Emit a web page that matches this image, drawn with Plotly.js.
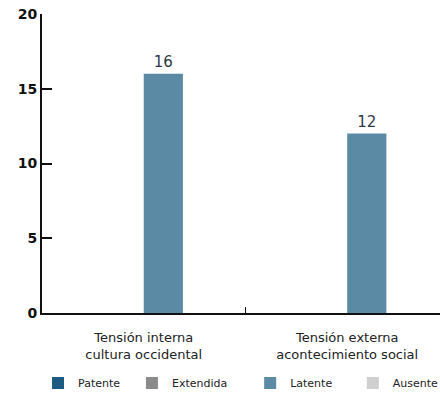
<!DOCTYPE html>
<html>
<head>
<meta charset="utf-8">
<script src="https://cdn.plot.ly/plotly-3.0.1.min.js"></script>
<style>html,body{margin:0;padding:0;background:#fff;}#chart{width:440px;height:400px;}</style>
</head>
<body>
<div id="chart"></div>
<script>
const categories = ["Tensión interna<br>cultura occidental", "Tensión externa<br>acontecimiento social"];
const seriesNames = ["Patente", "Extendida", "Latente", "Ausente"];
const patente = [0, 0];
const extendida = [0, 0];
const latente = [16, 12];
const ausente = [0, 0];
const yTicks = [0, 5, 10, 15, 20];

const colors = ["#1d5b82", "#8a8a8a", "#5b8aa4", "#cfcfcf"];
const values = [patente, extendida, latente, ausente];
const legendIds = ["legend", "legend2", "legend3", "legend4"];
const legendX = [-0.01, 0.226, 0.523, 0.781];
const FONT = "'DejaVu Sans', sans-serif";

const traces = seriesNames.map((name, i) => ({
  type: "bar",
  name: name,
  x: categories,
  y: values[i],
  legend: legendIds[i],
  marker: {color: colors[i], line: {width: 0}},
  text: i === 2 ? values[i].map(String) : undefined,
  textposition: i === 2 ? "outside" : "none",
  cliponaxis: false,
  textfont: {family: FONT, size: 15, color: "#2b3a4a"},
  hoverinfo: "none"
}));

const layout = {
  width: 440, height: 400,
  margin: {l: 42, r: 0, t: 14, b: 87, autoexpand: false},
  paper_bgcolor: "#fff", plot_bgcolor: "#fff",
  barmode: "group", bargap: 0.23, bargroupgap: 0,
  font: {family: FONT, color: "#222"},
  showlegend: true,
  xaxis: {type: "category", range: [-0.5, 1.456], showline: true, linecolor: "#111", linewidth: 2,
          ticks: "inside", tickson: "boundaries", ticklen: 6, tickwidth: 1.5, tickcolor: "#111",
          tickfont: {family: FONT, size: 13, color: "#222"}, ticklabelstandoff: 11, showgrid: false, zeroline: false, fixedrange: true},
  yaxis: {range: [0, 20], tickvals: yTicks, ticktext: yTicks.map(String), showline: true, linecolor: "#111", linewidth: 2,
          ticks: "inside", ticklen: 10, tickwidth: 2, tickcolor: "#111",
          tickfont: {family: FONT, size: 14, color: "#111", weight: "bold"}, showgrid: false, zeroline: false, fixedrange: true}
};
legendIds.forEach((id, i) => {
  layout[id] = {orientation: "h", x: legendX[i], xanchor: "left", y: -0.234, yanchor: "middle",
                font: {family: FONT, size: 11, color: "#222"}, itemwidth: 30, bgcolor: "rgba(0,0,0,0)"};
});

Plotly.newPlot("chart", traces, layout, {displayModeBar: false, staticPlot: true});
</script>
</body>
</html>
